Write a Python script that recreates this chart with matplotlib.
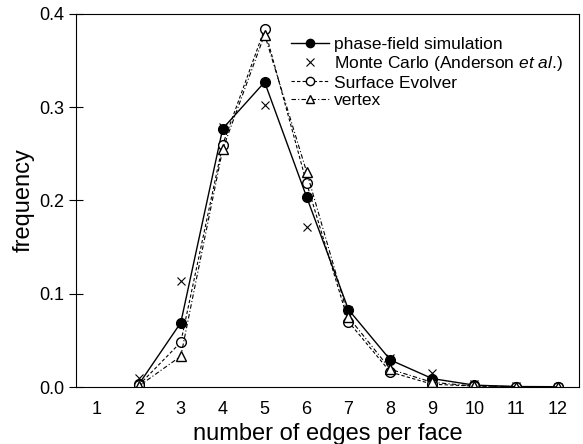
import numpy as np
import matplotlib.pyplot as plt

plt.rcParams['font.family'] = ['Liberation Sans', 'DejaVu Sans']
plt.rcParams['mathtext.fontset'] = 'custom'
plt.rcParams['mathtext.it'] = 'Liberation Sans:italic'
plt.rcParams['mathtext.rm'] = 'Liberation Sans'

edges = np.arange(2, 13)
phase_field = [0.003, 0.069, 0.277, 0.327, 0.204, 0.083, 0.029, 0.009, 0.002, 0.0005, 0.0003]
monte_carlo = [0.010, 0.114, 0.279, 0.302, 0.172, 0.083, 0.031, 0.015, 0.003, 0.001, 0.0002]
surface_evolver = [0.002, 0.048, 0.260, 0.384, 0.219, 0.070, 0.016, 0.003, 0.001, 0.0005, 0.0002]
vertex = [0.001, 0.033, 0.255, 0.378, 0.231, 0.075, 0.019, 0.005, 0.001, 0.0005, 0.0002]

fig = plt.figure(figsize=(5.83, 4.44), dpi=100)
ax = fig.add_axes([76/583, 1-387/444, (579-76)/583, (387-14)/444])

ax.plot(edges, phase_field, '-', color='black', lw=1.0, marker='o', ms=7,
        mfc='black', label='phase-field simulation')
ax.plot(edges, monte_carlo, 'x', color='black', ms=6, mew=0.8,
        label='Monte Carlo (Anderson $\\it{et\\ al}$.)')
ax.plot(edges, surface_evolver, color='black', lw=0.8, ls=(0, (3, 2)), marker='o', ms=7,
        mfc='white', label='Surface Evolver')
ax.plot(edges, vertex, color='black', lw=0.8, ls=(0, (4, 2, 1, 2)), marker='^', ms=7,
        mfc='white', label='vertex')

ax.set_xlim(0.5, 12.5)
ax.set_ylim(0, 0.4)
ax.set_xticks(range(1, 13))
ax.set_yticks([0.0, 0.1, 0.2, 0.3, 0.4])
ax.tick_params(axis='x', length=0, labelsize=13, pad=10)
ax.tick_params(axis='y', direction='inout', length=10, labelsize=13)
ax.set_xlabel('number of edges per face', fontsize=17)
ax.set_ylabel('frequency', fontsize=17, labelpad=3)

ax.legend(loc='upper right', bbox_to_anchor=(0.999, 0.98), frameon=False, fontsize=12.5,
          handlelength=2.2, handletextpad=0.3, labelspacing=0.12, markerscale=0.85)

fig.savefig('out.png', dpi=100)
